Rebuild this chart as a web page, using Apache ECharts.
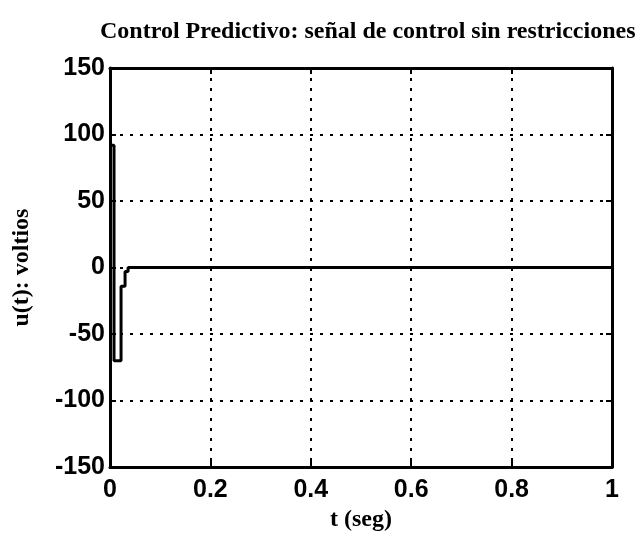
<!DOCTYPE html>
<html>
<head>
<meta charset="utf-8">
<script src="https://cdn.jsdelivr.net/npm/echarts@6/dist/echarts.min.js"></script>
<style>html,body{margin:0;padding:0;background:#fff;}#c{width:637px;height:537px;}</style>
</head>
<body>
<div id="c"></div>
<script>
var titleText = 'Control Predictivo: señal de control sin restricciones';
var xName = 't (seg)';
var yName = 'u(t): voltios';
var tTimes = [0, 0.008, 0.022, 0.030, 0.036, 1.0];
var uValues = [92, -70, -14, -3, 0, 0];
var xTicks = [0, 0.2, 0.4, 0.6, 0.8, 1];
var yTicks = [-150, -100, -50, 0, 50, 100, 150];

var data = tTimes.map(function (t, i) { return [t, uValues[i]]; });
var lblFont = {fontFamily: 'Liberation Sans', fontWeight: 'bold', fontSize: 25, color: '#000'};
var nameFont = {fontFamily: 'Liberation Serif', fontWeight: 'bold', fontSize: 24, color: '#000'};
var frame = {show: true, onZero: false, lineStyle: {color: '#000', width: 3}};
var grid = {show: true, lineStyle: {color: '#000', width: 2, type: [3, 7]}};
var tick = {show: true, inside: true, length: 6, lineStyle: {color: '#000', width: 2}};

var chart = echarts.init(document.getElementById('c'));
chart.setOption({
  animation: false,
  backgroundColor: '#fff',
  title: {
    text: titleText, left: 95, top: 15,
    textStyle: {fontFamily: 'Liberation Serif', fontWeight: 'bold', fontSize: 24, color: '#000'}
  },
  grid: {left: 110, right: 25, top: 68, bottom: 66},
  xAxis: [{
    type: 'value', min: 0, max: 1, interval: 0.2, position: 'bottom',
    name: xName, nameLocation: 'middle', nameGap: 40,
    nameTextStyle: nameFont,
    axisLine: frame, axisTick: tick, splitLine: grid,
    axisLabel: Object.assign({margin: 11, formatter: function (v) { return String(v); }}, lblFont)
  }, {
    type: 'value', min: 0, max: 1, interval: 0.2, position: 'top',
    axisLine: frame, axisTick: tick, splitLine: {show: false}, axisLabel: {show: false}
  }],
  yAxis: [{
    type: 'value', min: -150, max: 150, interval: 50, position: 'left',
    name: yName, nameLocation: 'middle', nameGap: 76, nameRotate: 90,
    nameTextStyle: nameFont,
    axisLine: frame, axisTick: tick, splitLine: grid,
    axisLabel: Object.assign({margin: 5}, lblFont)
  }, {
    type: 'value', min: -150, max: 150, interval: 50, position: 'right',
    axisLine: frame, axisTick: tick, splitLine: {show: false}, axisLabel: {show: false}
  }],
  series: [{
    type: 'line', data: data, step: 'end', showSymbol: false, symbol: 'none',
    xAxisIndex: 0, yAxisIndex: 0,
    lineStyle: {color: '#000', width: 3}
  }]
});
</script>
</body>
</html>
